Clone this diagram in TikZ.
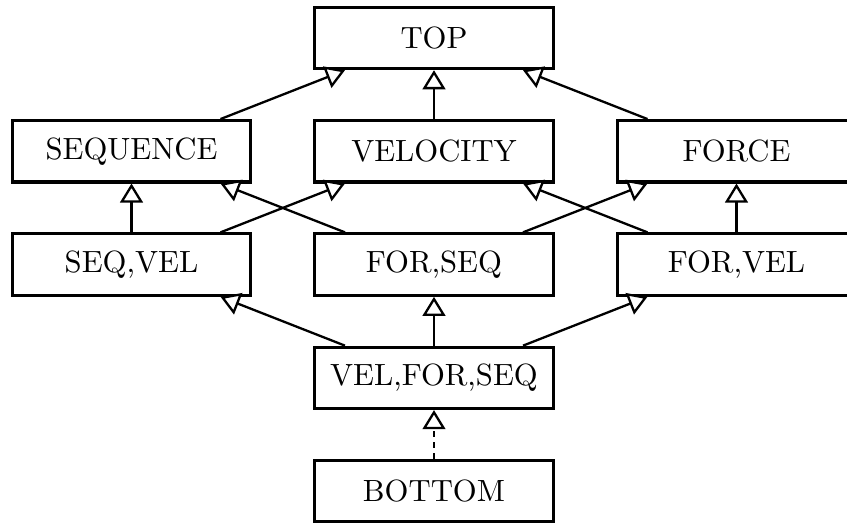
\documentclass[tikz,border=0pt]{standalone}
\usetikzlibrary{arrows.meta}
\begin{document}
\begin{tikzpicture}[x=0.3257pt, y=-0.3257pt,
  box/.style={draw, line width=1pt, minimum width=77.8pt, minimum height=20pt,
              inner sep=0pt, font=\normalsize},
  arr/.style={line width=0.75pt,
              -{Triangle[open, length=6.2pt, width=7.4pt, line width=0.75pt, fill=white]}},
  dasharr/.style={arr, dash pattern=on 1.8pt off 1.8pt}]
  \useasboundingbox (0,0) rectangle (847,523);
  \clip (0,0) rectangle (847,523);

  % lattice levels
  \node[box] (top) at (434,38)    {TOP};
  \node[box] (seq) at (131.5,151.3) {SEQUENCE};
  \node[box] (vel) at (434,151.3)   {VELOCITY};
  \node[box] (for) at (736.5,151.3) {FORCE};
  \node[box] (sv)  at (131.5,264.6) {SEQ,VEL};
  \node[box] (fs)  at (434,264.6)   {FOR,SEQ};
  \node[box] (fv)  at (736.5,264.6) {FOR,VEL};
  \node[box] (vfs) at (434,377.9)   {VEL,FOR,SEQ};
  \node[box] (bot) at (434,491.2)   {BOTTOM};

  \def\off{29pt}

  % single types up to TOP
  \draw[arr] ([xshift=\off]seq.north) -- ([xshift=-\off]top.south);
  \draw[arr] (vel.north) -- (top.south);
  \draw[arr] ([xshift=-\off]for.north) -- ([xshift=\off]top.south);

  % pairs up to single types
  \draw[arr] (sv.north) -- (seq.south);
  \draw[arr] ([xshift=\off]sv.north) -- ([xshift=-\off]vel.south);
  \draw[arr] ([xshift=-\off]fs.north) -- ([xshift=\off]seq.south);
  \draw[arr] ([xshift=\off]fs.north) -- ([xshift=-\off]for.south);
  \draw[arr] ([xshift=-\off]fv.north) -- ([xshift=\off]vel.south);
  \draw[arr] (fv.north) -- (for.south);

  % triple up to pairs
  \draw[arr] ([xshift=-\off]vfs.north) -- ([xshift=\off]sv.south);
  \draw[arr] (vfs.north) -- (fs.south);
  \draw[arr] ([xshift=\off]vfs.north) -- ([xshift=-\off]fv.south);

  % bottom
  \draw[dasharr] (bot.north) -- (vfs.south);
\end{tikzpicture}
\end{document}
